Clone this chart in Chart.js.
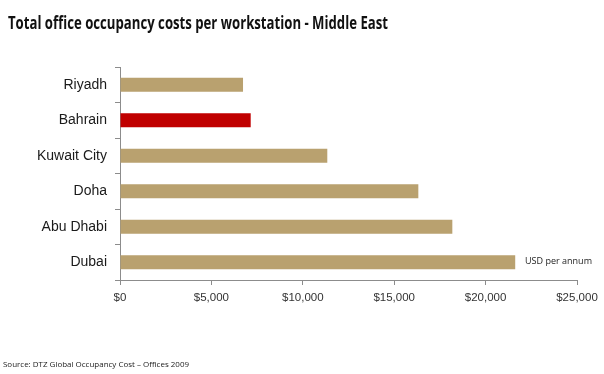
<!DOCTYPE html>
<html>
<head>
<meta charset="utf-8">
<script src="https://cdn.jsdelivr.net/npm/chart.js@4/dist/chart.umd.min.js"></script>
<style>
  html, body { margin: 0; padding: 0; background: #fff; }
  #wrap { position: relative; width: 604px; height: 374px; overflow: hidden; }
  canvas { position: absolute; left: 0; top: 0; }
  .txt { position: absolute; white-space: nowrap; transform-origin: 0 50%; font-family: "Open Sans", "DejaVu Sans", sans-serif; }
  #title { left: 8px; top: 10px; font-size: 17.5px; font-weight: 700; color: #111; line-height: 24px; }
  #source { left: 3px; top: 357px; font-size: 8px; color: #222; line-height: 14px; }
  #unit { left: 525px; top: 254px; font-size: 9px; color: #222; line-height: 14px; }
</style>
</head>
<body>
<div id="wrap">
  <canvas id="c" width="604" height="374"></canvas>
  <div class="txt" id="title">Total office occupancy costs per workstation - Middle East</div>
  <div class="txt" id="unit">USD per annum</div>
  <div class="txt" id="source">Source: DTZ Global Occupancy Cost – Offices 2009</div>
</div>
<script>
const cities = ["Riyadh", "Bahrain", "Kuwait City", "Doha", "Abu Dhabi", "Dubai"];
const costs = [6730, 7150, 11340, 16320, 18180, 21620];
const highlight = "Bahrain";
const xTicks = [0, 5000, 10000, 15000, 20000, 25000];

const tan = "#B9A16F";
const red = "#C00000";

new Chart(document.getElementById("c"), {
  type: "bar",
  data: {
    labels: cities,
    datasets: [{
      data: costs,
      backgroundColor: cities.map(c => c === highlight ? red : tan),
      barPercentage: 0.4,
      categoryPercentage: 1.0
    }]
  },
  options: {
    indexAxis: "y",
    responsive: false,
    animation: false,
    events: [],
    layout: { padding: { top: 67, right: 27, bottom: 0, left: 0 } },
    plugins: { legend: { display: false }, tooltip: { enabled: false }, title: { display: false } },
    scales: {
      x: {
        min: 0, max: 25000,
        afterFit: s => { s.height = 94; },
        afterBuildTicks: s => { s.ticks = xTicks.map(v => ({ value: v })); },
        border: { display: true, color: "#8c8c8c", width: 1 },
        grid: { display: true, drawOnChartArea: false, drawTicks: true, tickLength: 5, color: "#8c8c8c" },
        ticks: {
          padding: 6,
          color: "#333",
          font: { family: "'Liberation Sans', Arial, sans-serif", size: 11.5 },
          callback: v => "$" + Number(v).toLocaleString("en-US"),
          maxRotation: 0
        }
      },
      y: {
        afterFit: s => { s.width = 120; },
        border: { display: true, color: "#8c8c8c", width: 1 },
        grid: { display: true, offset: true, drawOnChartArea: false, drawTicks: true, tickLength: 5, color: "#8c8c8c" },
        ticks: {
          padding: 8,
          color: "#1a1a1a",
          font: { family: "'Liberation Sans', Arial, sans-serif", size: 14 }
        }
      }
    }
  }
});

function fit(id, w) {
  const el = document.getElementById(id);
  const r = el.getBoundingClientRect().width;
  el.style.transform = "scaleX(" + (w / r) + ")";
}
fit("title", 380);
fit("source", 186);
fit("unit", 67);
</script>
</body>
</html>
